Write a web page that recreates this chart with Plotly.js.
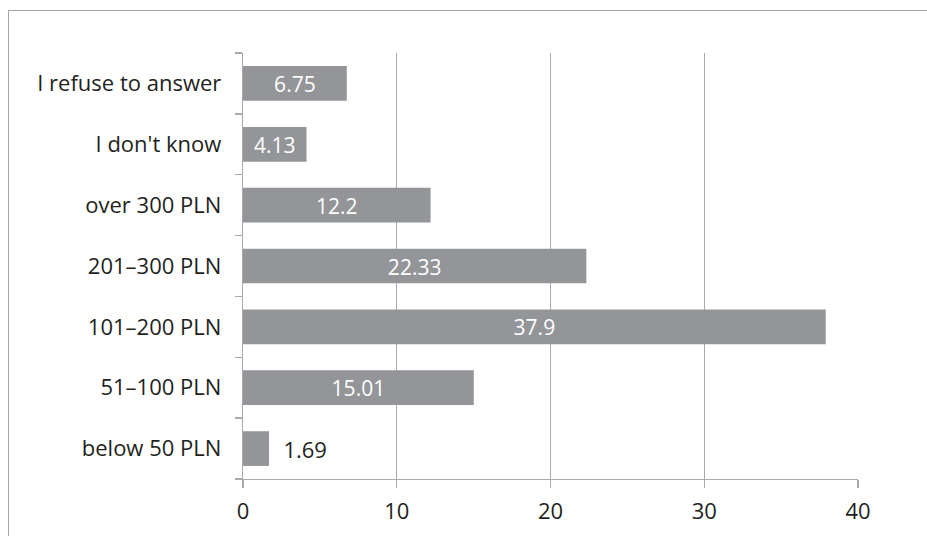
<!DOCTYPE html>
<html>
<head>
<meta charset="utf-8">
<script src="https://cdn.plot.ly/plotly-3.0.1.min.js"></script>
<style>
  html, body { margin: 0; padding: 0; background: #fff; overflow: hidden; }
  #frame { position: absolute; left: 8px; top: 10px; width: 1000px; height: 1000px;
           border: 1.5px solid #a6a6a6; box-sizing: border-box; }
  #chart { position: absolute; left: 0; top: 0; width: 927px; height: 536px; }
</style>
</head>
<body>
<div id="frame"></div>
<div id="chart"></div>
<script>
// Monthly spending brackets, bottom to top
const categories = [
  'below 50 PLN',
  '51–100 PLN',
  '101–200 PLN',
  '201–300 PLN',
  'over 300 PLN',
  "I don't know",
  'I refuse to answer'
];
const shares = [1.69, 15.01, 37.9, 22.33, 12.2, 4.13, 6.75];
const xTicks = [0, 10, 20, 30, 40];

const textColor = '#231f20';
const barColor = '#939598';
const lineColor = '#a7a9ac';
const fontFamily = '"Open Sans", "Noto Sans", sans-serif';
const fontSize = 22;

// bars too short to hold their value get the label beside them
const isShort = shares.map(v => v < 3);

const trace = {
  type: 'bar',
  orientation: 'h',
  y: categories,
  x: shares,
  text: shares.map(String),
  texttemplate: isShort.map(s => (s ? '\u00a0\u00a0%{text}' : '%{text}')),
  textposition: isShort.map(s => (s ? 'outside' : 'inside')),
  insidetextanchor: 'middle',
  insidetextfont: { family: fontFamily, size: fontSize, color: '#ffffff' },
  outsidetextfont: { family: fontFamily, size: fontSize, color: textColor },
  marker: { color: barColor, line: { width: 0 } },
  cliponaxis: false,
  hoverinfo: 'none'
};

const layout = {
  width: 927,
  height: 536,
  margin: { l: 243, r: 69, t: 53, b: 57 },
  paper_bgcolor: 'rgba(0,0,0,0)',
  plot_bgcolor: 'rgba(0,0,0,0)',
  bargap: 0.43,
  showlegend: false,
  font: { family: fontFamily, size: fontSize, color: textColor },
  xaxis: {
    range: [0, 40],
    tickvals: xTicks,
    ticktext: xTicks.map(String),
    showgrid: true,
    gridcolor: lineColor,
    gridwidth: 1.3,
    zeroline: false,
    showline: true,
    linecolor: lineColor,
    linewidth: 1.3,
    ticks: 'outside',
    ticklen: 8,
    tickcolor: lineColor,
    tickwidth: 1.3,
    ticklabelstandoff: 4,
    tickfont: { family: fontFamily, size: fontSize, color: textColor },
    fixedrange: true
  },
  yaxis: {
    type: 'category',
    categoryorder: 'array',
    categoryarray: categories,
    tickson: 'boundaries',
    ticks: 'outside',
    ticklen: 7,
    tickcolor: lineColor,
    tickwidth: 1.3,
    ticklabelstandoff: 16,
    showline: true,
    linecolor: lineColor,
    linewidth: 1.3,
    showgrid: false,
    zeroline: false,
    tickfont: { family: fontFamily, size: fontSize, color: textColor },
    fixedrange: true
  }
};

Plotly.newPlot('chart', [trace], layout, { displayModeBar: false, staticPlot: true });
</script>
</body>
</html>
